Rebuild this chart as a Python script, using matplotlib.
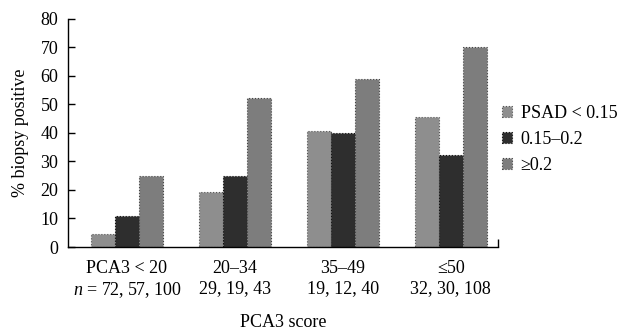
import matplotlib
matplotlib.use("Agg")
import matplotlib.pyplot as plt
import numpy as np

categories = ["PCA3 < 20", "20\u201334", "35\u201349", "\u226450"]
n_labels = ["$n$ = 72, 57, 100", "29, 19, 43", "19, 12, 40", "32, 30, 108"]
series_names = ["PSAD < 0.15", "0.15\u20130.2", "\u22650.2"]
psad_low = [4.5, 19.3, 40.8, 45.7]
psad_mid = [10.9, 25, 39.9, 32.2]
psad_high = [24.9, 52.4, 59, 70]
yticks = [0, 10, 20, 30, 40, 50, 60, 70, 80]

colors = ["#8e8e8e", "#2e2e2e", "#7d7d7d"]
edges = ["#555555", "#111111", "#444444"]

plt.rcParams['font.family'] = ['Liberation Serif', 'DejaVu Serif']
plt.rcParams['mathtext.fontset'] = 'custom'
plt.rcParams['mathtext.it'] = 'Liberation Serif:italic'
plt.rcParams['mathtext.rm'] = 'Liberation Serif'

FS = 13

fig = plt.figure(figsize=(6.27, 3.32), dpi=100)
ax = fig.add_axes([0.1085, 0.256, 0.6855, 0.687])

x = np.arange(len(categories))
w = 0.222
data = [psad_low, psad_mid, psad_high]
for i, (vals, name) in enumerate(zip(data, series_names)):
    ax.bar(x + (i - 1) * w, vals, width=w, color=colors[i], edgecolor=edges[i],
           linewidth=0.8, linestyle=':', label=name)

ax.set_xlim(-0.546, 3.435)
ax.set_ylim(0, 80)
ax.set_yticks(yticks)
ax.tick_params(axis='y', direction='in', length=5, pad=7, labelsize=FS, width=1)
ax.set_xticks(x)
ax.set_xticklabels([f"{c}\n{n}" for c, n in zip(categories, n_labels)], linespacing=1.25)
ax.tick_params(axis='x', length=0, pad=9, labelsize=FS)
ax.set_xticks([3.435], minor=True)
ax.tick_params(axis='x', which='minor', direction='in', length=6, width=1)
for s in ['top', 'right']:
    ax.spines[s].set_visible(False)
ax.spines['left'].set_linewidth(1)
ax.spines['bottom'].set_linewidth(1)

ax.set_ylabel("% biopsy positive", fontsize=FS, labelpad=8)
ax.set_xlabel("PCA3 score", fontsize=FS, labelpad=10)

leg = fig.legend(loc='center left', bbox_to_anchor=(0.774, 0.58), frameon=False,
                 handlelength=0.6, handleheight=0.6, handletextpad=0.45,
                 labelspacing=0.5, fontsize=FS)

fig.savefig("out.png", dpi=100)
